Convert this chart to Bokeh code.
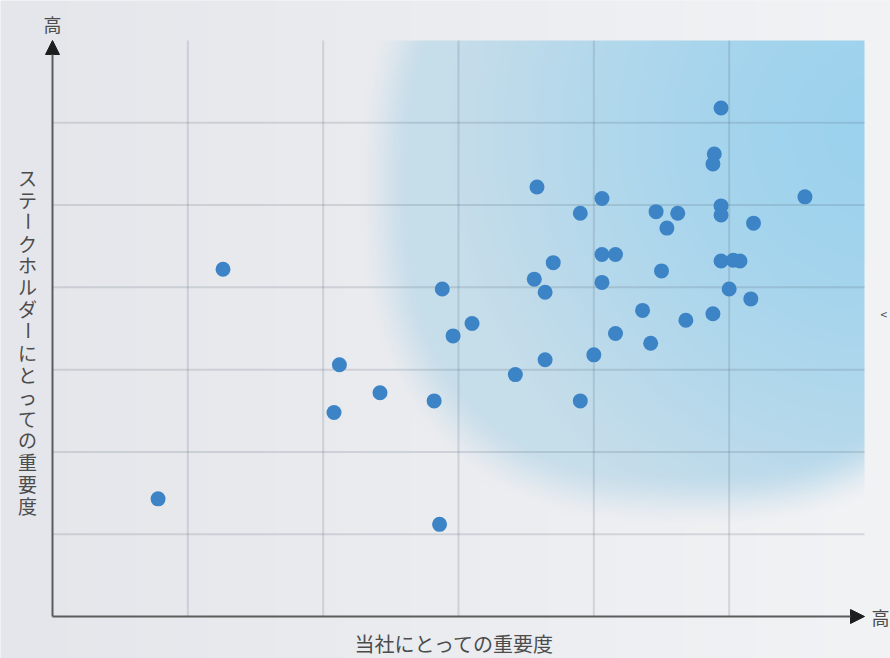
import numpy as np
from bokeh.plotting import figure
from bokeh.models import Label, Arrow, NormalHead, Range1d
from bokeh.embed import file_html
from bokeh.resources import INLINE

# ---------------- data ----------------
company_importance = [4.94, 4.89, 4.88, 3.58, 4.06, 5.56, 3.90, 4.46, 4.62, 4.94,
                      4.94, 4.54, 5.18, 4.06, 4.16, 3.70, 4.94, 5.03, 5.08, 4.50,
                      3.56, 2.88, 3.64, 4.06, 5.00, 5.16, 4.36, 4.68, 4.88, 3.10,
                      2.96, 4.16, 4.42, 4.00, 3.64, 3.42, 2.42, 2.82, 3.90, 0.78,
                      1.26, 2.12, 2.08, 2.86]
stakeholder_importance = [6.18, 5.62, 5.50, 5.22, 5.08, 5.10, 4.90, 4.92, 4.90, 4.99,
                          4.88, 4.72, 4.78, 4.40, 4.40, 4.30, 4.32, 4.33, 4.32, 4.20,
                          4.10, 3.98, 3.94, 4.06, 3.98, 3.86, 3.72, 3.60, 3.68, 3.56,
                          3.41, 3.44, 3.32, 3.18, 3.12, 2.94, 2.72, 2.62, 2.62, 1.43,
                          4.22, 3.06, 2.48, 1.12]
x_grid_ticks = [1, 2, 3, 4, 5]
y_grid_ticks = [1, 2, 3, 4, 5, 6]
x_label = "当社にとっての重要度"
y_label = "ステークホルダーにとっての重要度"
high_label = "高"
side_mark = "<"

# ---------------- layout (pixels of the whole canvas) ----------------
W, H = 890, 658
PL, PR, PT, PB = 52, 864, 40, 616          # plot area edges
XMAX, YMAX = 6, 7
SX = (PR - PL) / XMAX
SY = (PB - PT) / YMAX

x_range = Range1d(-PL / SX, (W - PL) / SX)
y_range = Range1d(-(H - PB) / SY, PB / SY)

p = figure(width=W, height=H, x_range=x_range, y_range=y_range,
           output_backend="svg", toolbar_location=None,
           min_border=0, min_border_left=0, min_border_right=0,
           min_border_top=0, min_border_bottom=0,
           border_fill_color="#ebecef", background_fill_color="#ebecef",
           outline_line_color=None)
p.axis.visible = False
p.grid.visible = False

# ---------------- background + blue highlight ----------------
res = 2
nx, ny = W // res, (H + 1) // res
px = (np.arange(nx) + 0.5) * res
py = H - (np.arange(ny) + 0.5) * res
X, Y = np.meshgrid(px, py)
g0 = np.array([229, 230, 235], dtype=float)
g1 = np.array([242, 243, 245], dtype=float)
t = (X / W)[..., None]
gray = g0 + (g1 - g0) * t

d = ((np.abs(X - 690) / 325) ** 2.5 + (np.abs(Y - 185) / 335) ** 2.5) ** (1 / 2.5)
a = np.clip((1.03 - d) / 0.18, 0, 1)
a = a * a * (3 - 2 * a)
inside = (X >= PL) & (X <= PR) & (Y >= PT) & (Y <= PB)
a = np.where(inside, a, 0.0)[..., None]
s = (np.clip(np.hypot(X - 880, Y - 130) / 430, 0, 1) ** 1.5)[..., None]
C1 = np.array([156, 210, 238], dtype=float)
C2 = np.array([198, 221, 234], dtype=float)
blue = C1 + (C2 - C1) * s
col = gray * (1 - a) + blue * a

img = np.zeros((ny, nx), dtype=np.uint32)
view = img.view(dtype=np.uint8).reshape((ny, nx, 4))
view[..., :3] = np.clip(col, 0, 255).astype(np.uint8)
view[..., 3] = 255
p.image_rgba(image=[img], x=x_range.start, y=y_range.start,
             dw=x_range.end - x_range.start, dh=ny * res / SY, level="image")

# ---------------- grid ----------------
p.segment(x0=x_grid_ticks, y0=[0] * len(x_grid_ticks), x1=x_grid_ticks, y1=[YMAX] * len(x_grid_ticks),
          line_color="#506070", line_alpha=0.18, line_width=2)
p.segment(x0=[0] * len(y_grid_ticks), y0=y_grid_ticks, x1=[XMAX] * len(y_grid_ticks), y1=y_grid_ticks,
          line_color="#506070", line_alpha=0.18, line_width=2)

# ---------------- points ----------------
p.scatter(company_importance, stakeholder_importance, size=15,
          fill_color="#3c84c6", line_color=None)

# ---------------- axes with arrows ----------------
for xs, ys, xe, ye in [(0, 0, XMAX, 0), (0, 0, 0, YMAX)]:
    p.add_layout(Arrow(end=NormalHead(size=14, fill_color="#1e1e1e", line_color="#1e1e1e", line_width=1),
                       x_start=xs, y_start=ys, x_end=xe, y_end=ye,
                       line_color="#5c5c5c", line_width=2))

FONT = "Noto Sans CJK JP"
TXT = "#4c4c4c"

def page_label(text, pxx, pyy, size, angle=0.0, align="center"):
    p.add_layout(Label(x=pxx, y=H - pyy, x_units="screen", y_units="screen",
                       text=text, text_font=FONT, text_font_size=f"{size}px", text_color=TXT,
                       text_align=align, text_baseline="middle", angle=angle))

page_label(high_label, 52, 23, 18)
page_label(high_label, 880, 616, 18)
page_label(x_label, 454, 643, 20)
page_label(side_mark, 880, 313, 12, align="left")
for i, ch in enumerate(y_label):
    page_label(ch, 27, 177 + 21.87 * i, 19, angle=(np.pi / 2 if ch == "ー" else 0.0))

open("out.html", "w").write(file_html(p, INLINE))
